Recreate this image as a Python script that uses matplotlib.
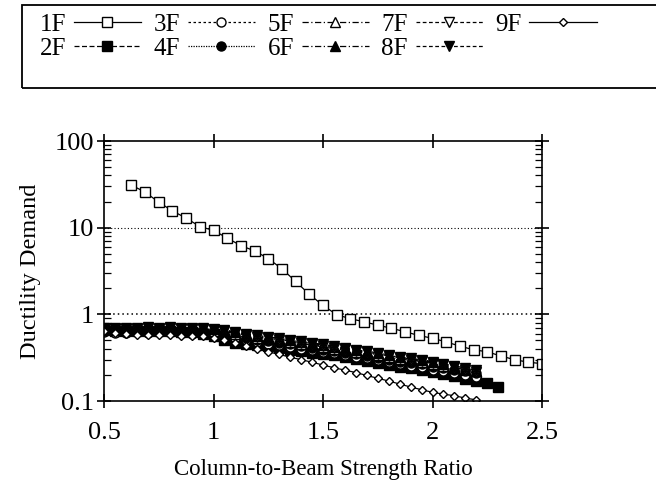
import numpy as np
import matplotlib.pyplot as plt
from matplotlib.patches import Rectangle
from matplotlib.ticker import FixedLocator, FixedFormatter, LogLocator, NullFormatter

plt.rcParams['font.family'] = ['Liberation Serif', 'DejaVu Serif']

# data
x_1f = [0.625, 0.6875, 0.75, 0.8125, 0.875, 0.9375, 1.0, 1.0625, 1.125, 1.1875, 1.25,
        1.3125, 1.375, 1.4375, 1.5, 1.5625, 1.625, 1.6875, 1.75, 1.8125, 1.875, 1.9375,
        2.0, 2.0625, 2.125, 2.1875, 2.25, 2.3125, 2.375, 2.4375, 2.5]
y_1f = [31.0, 25.7, 19.7, 15.6, 12.9, 10.3, 9.3, 7.6, 6.2, 5.4, 4.4, 3.35, 2.4, 1.70,
        1.27, 0.99, 0.89, 0.82, 0.75, 0.69, 0.63, 0.57, 0.53, 0.48, 0.43, 0.39, 0.37,
        0.33, 0.30, 0.28, 0.27]

x_2f = [0.5, 0.55, 0.6, 0.65, 0.7, 0.75, 0.8, 0.85, 0.9, 0.95, 1.0, 1.05, 1.1, 1.15,
        1.2, 1.25, 1.3, 1.35, 1.4, 1.45, 1.5, 1.55, 1.6, 1.65, 1.7, 1.75, 1.8, 1.85,
        1.9, 1.95, 2.0, 2.05, 2.1, 2.15, 2.2, 2.25, 2.3]
y_2f = [0.66, 0.65, 0.64, 0.65, 0.64, 0.65, 0.64, 0.63, 0.62, 0.60, 0.56, 0.50, 0.47,
        0.45, 0.44, 0.43, 0.41, 0.39, 0.375, 0.36, 0.35, 0.335, 0.32, 0.305, 0.29,
        0.275, 0.26, 0.25, 0.24, 0.23, 0.215, 0.205, 0.195, 0.18, 0.17, 0.16, 0.145]

# 3F..9F share the same ratios 0.5 .. 2.2
x_lo = [0.5, 0.55, 0.6, 0.65, 0.7, 0.75, 0.8, 0.85, 0.9, 0.95, 1.0, 1.05, 1.1, 1.15,
        1.2, 1.25, 1.3, 1.35, 1.4, 1.45, 1.5, 1.55, 1.6, 1.65, 1.7, 1.75, 1.8, 1.85,
        1.9, 1.95, 2.0, 2.05, 2.1, 2.15, 2.2]
y_3f = [0.62, 0.61, 0.61, 0.62, 0.61, 0.62, 0.62, 0.61, 0.60, 0.60, 0.59, 0.57, 0.54,
        0.51, 0.48, 0.46, 0.44, 0.42, 0.40, 0.385, 0.37, 0.355, 0.34, 0.325, 0.31,
        0.295, 0.28, 0.265, 0.255, 0.245, 0.23, 0.22, 0.21, 0.20, 0.19]
y_4f = [0.65, 0.64, 0.64, 0.65, 0.65, 0.64, 0.65, 0.64, 0.63, 0.63, 0.62, 0.60, 0.57,
        0.54, 0.51, 0.49, 0.47, 0.45, 0.43, 0.41, 0.39, 0.375, 0.36, 0.345, 0.33,
        0.315, 0.30, 0.285, 0.275, 0.265, 0.25, 0.24, 0.23, 0.22, 0.21]
y_5f = [0.67, 0.66, 0.67, 0.67, 0.68, 0.67, 0.68, 0.67, 0.66, 0.66, 0.65, 0.63, 0.60,
        0.57, 0.54, 0.52, 0.50, 0.48, 0.46, 0.44, 0.42, 0.40, 0.385, 0.37, 0.355,
        0.34, 0.32, 0.305, 0.295, 0.285, 0.27, 0.255, 0.24, 0.23, 0.22]
y_6f = [0.69, 0.68, 0.69, 0.69, 0.70, 0.69, 0.70, 0.69, 0.68, 0.68, 0.67, 0.65, 0.62,
        0.59, 0.56, 0.54, 0.52, 0.50, 0.48, 0.46, 0.44, 0.42, 0.40, 0.385, 0.37,
        0.355, 0.335, 0.32, 0.305, 0.295, 0.28, 0.265, 0.25, 0.235, 0.22]
y_7f = [0.68, 0.67, 0.68, 0.68, 0.69, 0.68, 0.69, 0.68, 0.67, 0.67, 0.66, 0.64, 0.61,
        0.58, 0.55, 0.53, 0.51, 0.49, 0.47, 0.45, 0.43, 0.41, 0.395, 0.38, 0.365,
        0.35, 0.33, 0.315, 0.30, 0.29, 0.275, 0.26, 0.245, 0.23, 0.215]
y_8f = [0.70, 0.69, 0.70, 0.70, 0.71, 0.70, 0.71, 0.70, 0.69, 0.69, 0.68, 0.66, 0.63,
        0.60, 0.57, 0.55, 0.53, 0.51, 0.49, 0.47, 0.45, 0.43, 0.41, 0.39, 0.375,
        0.36, 0.34, 0.325, 0.31, 0.30, 0.285, 0.27, 0.255, 0.24, 0.225]
y_9f = [0.64, 0.61, 0.59, 0.58, 0.575, 0.57, 0.57, 0.565, 0.56, 0.555, 0.54, 0.51,
        0.47, 0.43, 0.40, 0.37, 0.345, 0.32, 0.30, 0.28, 0.26, 0.242, 0.227, 0.213,
        0.197, 0.183, 0.17, 0.157, 0.145, 0.135, 0.126, 0.12, 0.115, 0.108, 0.103]

fig = plt.figure(figsize=(6.56, 4.84), dpi=100)
ax = fig.add_axes([104/656, 1-401/484, 438/656, 260/484])

# (x, y, label, linestyle, marker, filled)
series = [
    (x_1f, y_1f, '1F', '-', 's', False),
    (x_2f, y_2f, '2F', (0, (4, 2)), 's', True),
    (x_lo, y_3f, '3F', (0, (2, 2)), 'o', False),
    (x_lo, y_4f, '4F', (0, (1, 1)), 'o', True),
    (x_lo, y_5f, '5F', (0, (5, 2, 1, 2)), '^', False),
    (x_lo, y_6f, '6F', (0, (5, 2, 1, 2)), '^', True),
    (x_lo, y_7f, '7F', (0, (3, 2)), 'v', False),
    (x_lo, y_8f, '8F', (0, (3, 2)), 'v', True),
    (x_lo, y_9f, '9F', '-', 'D', False),
]
handles = []
for xs, ys, lab, ls, mk, filled in series:
    if lab == '1F':
        size = 7
    elif mk == 'D':
        size = 4.5
    else:
        size = 6.5
    h, = ax.plot(xs, ys, linestyle=ls, color='black', linewidth=0.9,
                 marker=mk, markersize=size, markeredgewidth=1.0,
                 markerfacecolor='black' if filled else 'white',
                 markeredgecolor='black', label=lab)
    handles.append(h)

ax.set_yscale('log')
ax.set_xlim(0.5, 2.5)
ax.set_ylim(0.1, 100)
ax.xaxis.set_major_locator(FixedLocator([0.5, 1, 1.5, 2, 2.5]))
ax.xaxis.set_major_formatter(FixedFormatter(['0.5', '1', '1.5', '2', '2.5']))
ax.yaxis.set_major_locator(FixedLocator([0.1, 1, 10, 100]))
ax.yaxis.set_major_formatter(FixedFormatter(['0.1', '1', '10', '100']))
ax.yaxis.set_minor_locator(LogLocator(base=10, subs=np.arange(2, 10)))
ax.yaxis.set_minor_formatter(NullFormatter())

ax.axhline(1, color='black', linestyle=(0, (1, 2)), linewidth=1.1, zorder=0)
ax.axhline(10, color='black', linestyle=(0, (1, 2)), linewidth=0.8, zorder=0)

for s in ax.spines.values():
    s.set_linewidth(1.2)
ax.tick_params(which='major', direction='inout', length=10, width=1.2,
               top=True, right=True, labelsize=19)
ax.tick_params(axis='x', which='major', pad=10)
ax.tick_params(axis='y', which='major', pad=2)
ax.tick_params(which='minor', direction='in', length=5, width=0.9, right=True)

ax.set_xlabel('Column-to-Beam Strength Ratio', fontsize=16.5, labelpad=11)
ax.set_ylabel('Ductility Demand', fontsize=17.5, labelpad=10)

# legend box runs past the right edge of the figure
fig.patches.append(Rectangle((22/656, 1-88/484), 0.99, 83/484, transform=fig.transFigure,
                             fill=False, edgecolor='black', linewidth=1.3))
fig.legend(handles=handles, loc='upper left', bbox_to_anchor=(22/656, 1+4/484),
           ncol=5, frameon=False, markerfirst=False, fontsize=18,
           handlelength=2.7, handletextpad=0.3, columnspacing=0.5,
           labelspacing=0.05, borderpad=0.2)

fig.savefig('out.png', dpi=100)
